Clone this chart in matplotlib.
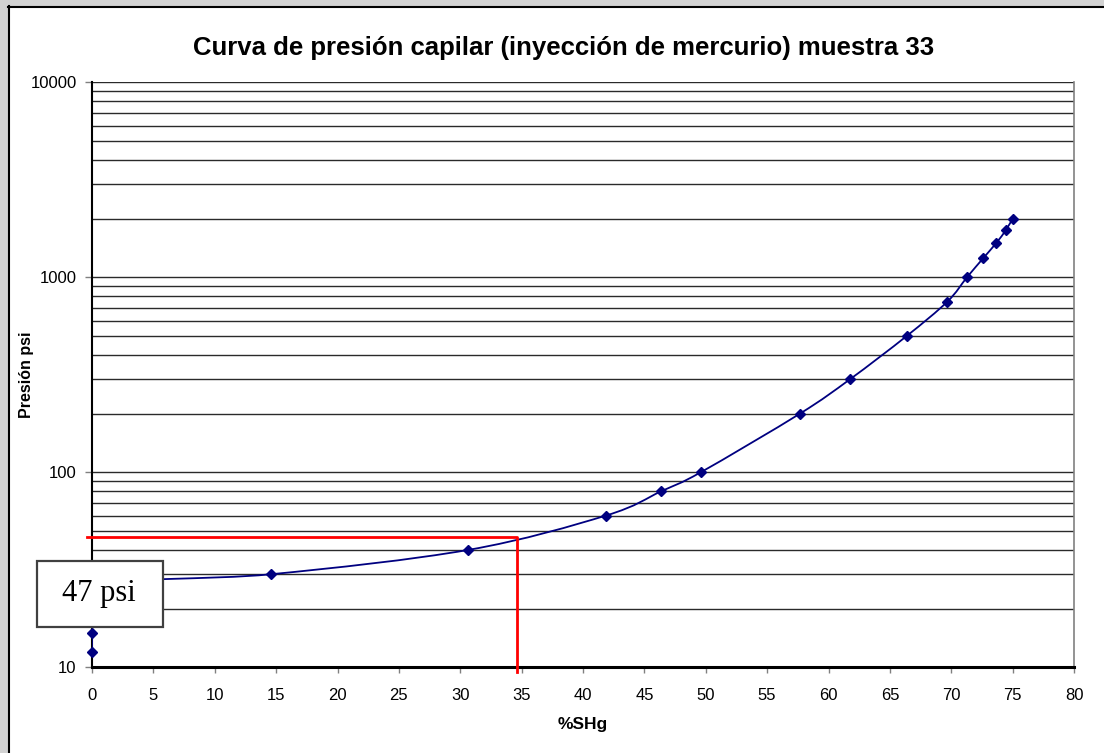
import numpy as np
import matplotlib
matplotlib.use("Agg")
import matplotlib.pyplot as plt
from matplotlib.path import Path
from matplotlib.patches import PathPatch, Rectangle
from matplotlib.lines import Line2D
from matplotlib.ticker import FixedLocator, LogLocator, NullFormatter

# ---------------- data ----------------
shg = [0, 0, 0, 14.56, 30.66, 41.87, 46.38, 49.59, 57.68, 61.75, 66.37,
       69.68, 71.28, 72.59, 73.67, 74.46, 75.0]
presion = [12, 15, 26, 30, 40, 60, 80, 100, 200, 300, 500,
           750, 1000, 1250, 1500, 1750, 2000]
x_ticks = list(range(0, 85, 5))
y_ticks = [10, 100, 1000, 10000]
y_tick_labels = ["10", "100", "1000", "10000"]
red_level = 46.5      # psi
red_x = 34.6          # %SHg
title = "Curva de presión capilar (inyección de mercurio) muestra 33"
xlabel = "%SHg"
ylabel = "Presión psi"
box_text = "47 psi"

W, H = 1104, 753
fig = plt.figure(figsize=(W / 100, H / 100), dpi=100, facecolor="white")
plt.rcParams["font.family"] = ["Liberation Sans", "DejaVu Sans"]

# outer grey bands + frame (page background)
fig.add_artist(Rectangle((0, 0), 8 / W, 1, transform=fig.transFigure,
                         facecolor="#d2d2d2", edgecolor="none", zorder=0))
fig.add_artist(Rectangle((0, 1 - 6 / H), 1, 6 / H, transform=fig.transFigure,
                         facecolor="#d2d2d2", edgecolor="none", zorder=0))
fig.add_artist(Line2D([8.5 / W, 8.5 / W], [0, 1 - 6 / H], transform=fig.transFigure,
                      color="black", lw=1.5))
fig.add_artist(Line2D([8 / W, 1], [1 - 6.5 / H, 1 - 6.5 / H], transform=fig.transFigure,
                      color="black", lw=1.5))

# axes
x0, x1 = 92, 1074
y_top, y_bot = 82.3, 667.3
ax = fig.add_axes([x0 / W, 1 - y_bot / H, (x1 - x0) / W, (y_bot - y_top) / H])
ax.set_facecolor("white")
ax.set_yscale("log")
ax.set_xlim(0, 80)
ax.set_ylim(10, 10000)

ax.xaxis.set_major_locator(FixedLocator(x_ticks))
ax.set_xticklabels([str(v) for v in x_ticks])
ax.yaxis.set_major_locator(FixedLocator(y_ticks))
ax.set_yticklabels(y_tick_labels)
ax.yaxis.set_minor_locator(LogLocator(base=10, subs=np.arange(2, 10)))
ax.yaxis.set_minor_formatter(NullFormatter())

ax.tick_params(axis="x", which="major", length=4, width=1, color="#808080",
               direction="out", pad=11, labelsize=12)
ax.tick_params(axis="y", which="major", length=5, width=1, color="#808080",
               direction="out", pad=6, labelsize=12)
ax.tick_params(axis="y", which="minor", length=0)

ax.yaxis.grid(True, which="both", color="#2a2a2a", lw=1.0)
ax.xaxis.grid(False)
ax.set_axisbelow(True)

ax.spines["top"].set_visible(False)
ax.spines["right"].set_color("#808080")
ax.spines["right"].set_linewidth(1.2)
ax.spines["left"].set_color("black")
ax.spines["left"].set_linewidth(1.5)
ax.spines["bottom"].set_color("black")
ax.spines["bottom"].set_linewidth(2.2)

# smoothed line (Excel-style Catmull-Rom Bezier in x/log-y space)
xs = np.array(shg, dtype=float)
vs = np.log10(np.array(presion, dtype=float))
verts = [(xs[0], 10 ** vs[0])]
codes = [Path.MOVETO]
n = len(xs)
for i in range(n - 1):
    im1 = max(i - 1, 0)
    ip2 = min(i + 2, n - 1)
    c1x = xs[i] + (xs[i + 1] - xs[im1]) / 6
    c1v = vs[i] + (vs[i + 1] - vs[im1]) / 6
    c2x = xs[i + 1] - (xs[ip2] - xs[i]) / 6
    c2v = vs[i + 1] - (vs[ip2] - vs[i]) / 6
    verts += [(c1x, 10 ** c1v), (c2x, 10 ** c2v), (xs[i + 1], 10 ** vs[i + 1])]
    codes += [Path.CURVE4] * 3
curve = PathPatch(Path(verts, codes), facecolor="none", edgecolor="#000080",
                  lw=1.3, transform=ax.transData, zorder=3)
ax.add_patch(curve)

# markers (the hidden one at x=0 is under the text box)
ax.plot(shg, presion, linestyle="none", marker="D", ms=5.2, color="#000080",
        mec="#000080", clip_on=False, zorder=4)

# red reading lines
ax.plot([-0.4, red_x, red_x], [red_level, red_level, 9.45], color="#ff0000",
        lw=2.0, clip_on=False, zorder=5)

# labels
fig.text(563.5 / W, 1 - 48 / H, title, ha="center", va="center",
         fontsize=18.5, fontweight="bold")
fig.text(583 / W, 1 - 724 / H, xlabel, ha="center", va="center",
         fontsize=12.5, fontweight="bold")
fig.text(26 / W, 1 - 375 / H, ylabel, ha="center", va="center",
         rotation=90, fontsize=11.5, fontweight="bold")

# text box "47 psi"
bx0, by0, bx1, by1 = 37, 561, 163, 627
fig.add_artist(Rectangle((bx0 / W, 1 - by1 / H), (bx1 - bx0) / W, (by1 - by0) / H,
                         transform=fig.transFigure, facecolor="white",
                         edgecolor="#404040", lw=1.6, zorder=10))
fig.text(98.5 / W, 1 - 594 / H, box_text, ha="center", va="center",
         fontsize=22, family=["Liberation Serif", "DejaVu Serif"], zorder=11)

fig.savefig("out.png", dpi=100, facecolor="white")
